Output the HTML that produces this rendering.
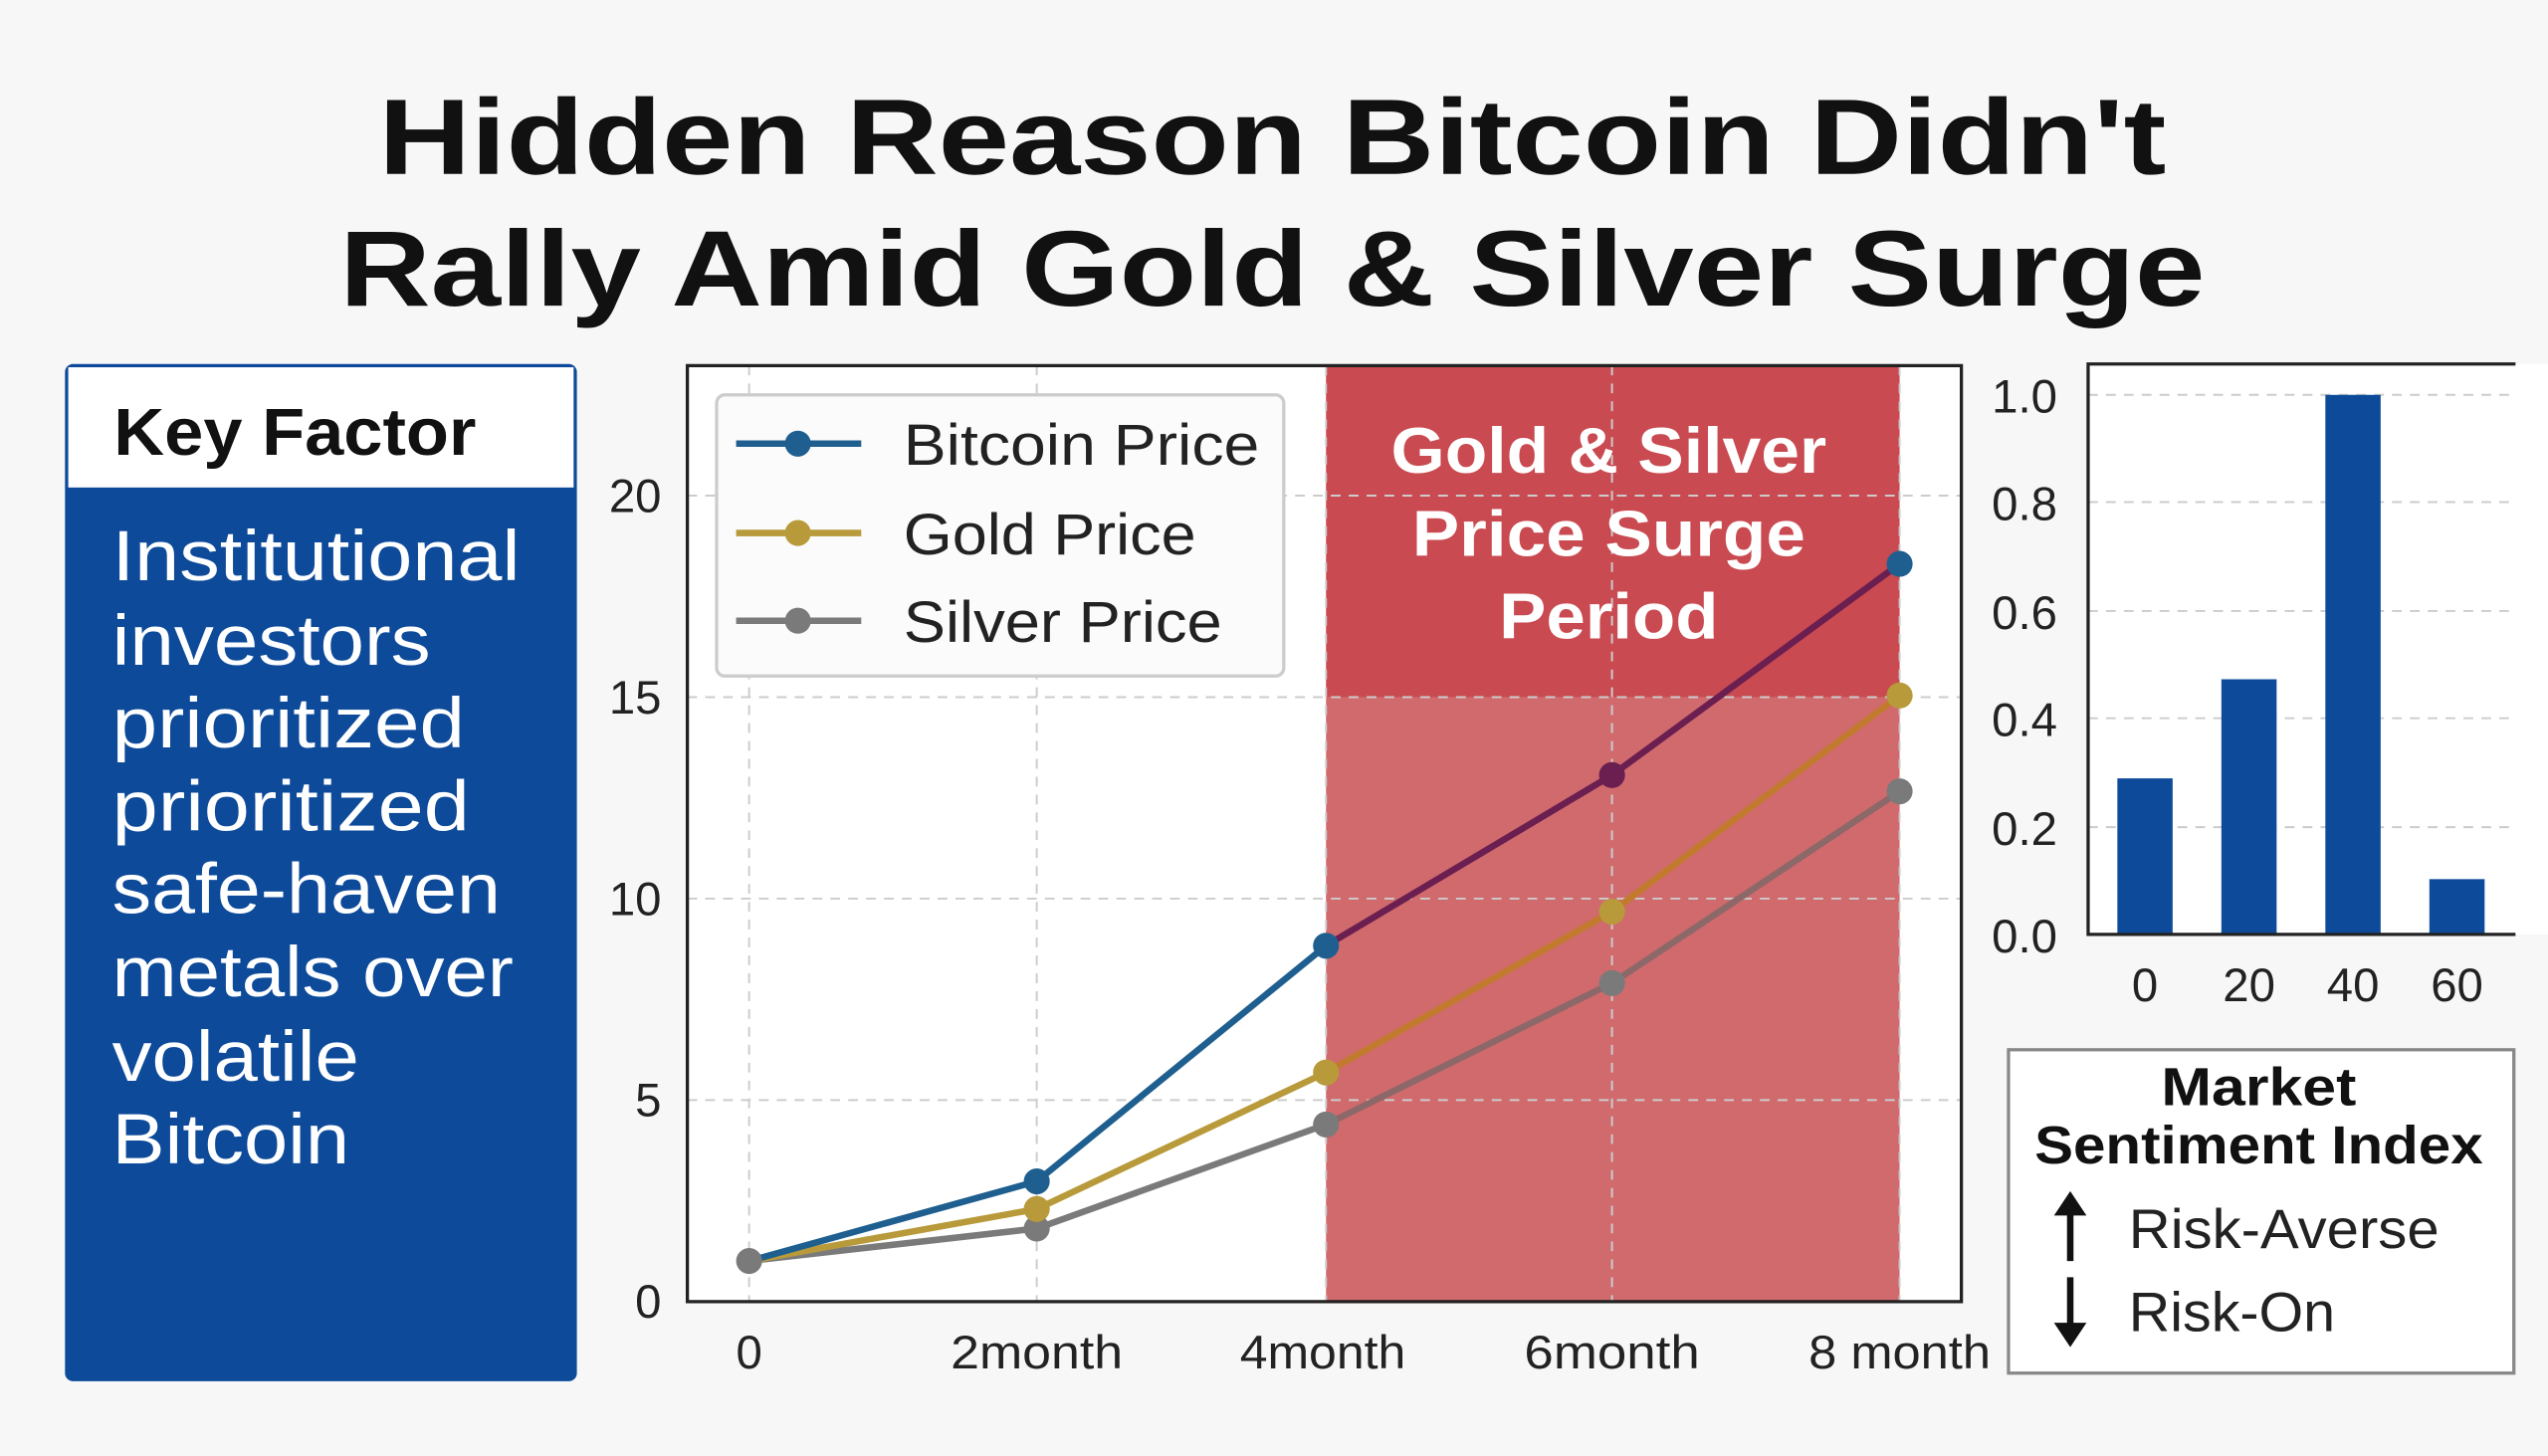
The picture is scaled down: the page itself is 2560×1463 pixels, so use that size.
<!DOCTYPE html>
<html><head><meta charset="utf-8"><style>
html,body{margin:0;padding:0;background:#f7f7f8;}
svg{display:block;font-family:"Liberation Sans","DejaVu Sans",sans-serif;}
</style></head><body>
<svg width="2560" height="1463" viewBox="0 0 1568 896" preserveAspectRatio="none" xmlns="http://www.w3.org/2000/svg">
<rect width="1568" height="896" fill="#f7f7f8"/>
<g font-weight="bold" font-size="66" fill="#111" text-anchor="middle">
<text x="783" y="107" textLength="1100" lengthAdjust="spacingAndGlyphs">Hidden Reason Bitcoin Didn't</text>
<text x="783" y="188" textLength="1148" lengthAdjust="spacingAndGlyphs">Rally Amid Gold &amp; Silver Surge</text>
</g>
<!-- left panel -->
<rect x="40" y="224" width="315" height="626" rx="5" fill="#0d4a9a"/>
<rect x="42" y="226" width="311" height="74" fill="#fff"/>
<text x="70" y="280" font-size="41" font-weight="bold" fill="#111" textLength="223" lengthAdjust="spacingAndGlyphs">Key Factor</text>
<g font-size="44" fill="#fff" lengthAdjust="spacingAndGlyphs">
<text x="69" y="357" textLength="251" lengthAdjust="spacingAndGlyphs">Institutional</text>
<text x="69" y="409" textLength="196" lengthAdjust="spacingAndGlyphs">investors</text>
<text x="69" y="460" textLength="217" lengthAdjust="spacingAndGlyphs">prioritized</text>
<text x="69" y="511" textLength="220" lengthAdjust="spacingAndGlyphs">prioritized</text>
<text x="69" y="562" textLength="239" lengthAdjust="spacingAndGlyphs">safe-haven</text>
<text x="69" y="613" textLength="247" lengthAdjust="spacingAndGlyphs">metals over</text>
<text x="69" y="665" textLength="152" lengthAdjust="spacingAndGlyphs">volatile</text>
<text x="69" y="716" textLength="146" lengthAdjust="spacingAndGlyphs">Bitcoin</text>
</g>
<!-- main chart -->
<rect x="423" y="225" width="784" height="576" fill="#fff"/>
<rect x="816" y="225" width="353" height="204" fill="#c94a50"/>
<rect x="816" y="429" width="353" height="372" fill="#d06a6d"/>
<g stroke="#ccc" stroke-dasharray="6,5" stroke-width="1.2">
<line x1="423" y1="305" x2="1207" y2="305"/><line x1="423" y1="429" x2="1207" y2="429"/>
<line x1="423" y1="553" x2="1207" y2="553"/><line x1="423" y1="677" x2="1207" y2="677"/>
<line x1="461" y1="225" x2="461" y2="801"/><line x1="638" y1="225" x2="638" y2="801"/>
<line x1="816" y1="225" x2="816" y2="801"/><line x1="992" y1="225" x2="992" y2="801"/>
<line x1="1169" y1="225" x2="1169" y2="801"/>
</g>
<rect x="423" y="225" width="784" height="576" fill="none" stroke="#222" stroke-width="2"/>
<g font-size="29" fill="#222" text-anchor="end">
<text x="407" y="811">0</text><text x="407" y="687">5</text><text x="407" y="563">10</text>
<text x="407" y="439">15</text><text x="407" y="315">20</text>
</g>
<g font-size="29" fill="#222" text-anchor="middle">
<text x="461" y="842">0</text><text x="638" y="842" textLength="106" lengthAdjust="spacingAndGlyphs">2month</text><text x="814" y="842" textLength="102" lengthAdjust="spacingAndGlyphs">4month</text>
<text x="992" y="842" textLength="108" lengthAdjust="spacingAndGlyphs">6month</text><text x="1169" y="842" textLength="112" lengthAdjust="spacingAndGlyphs">8 month</text>
</g>
<g fill="none" stroke-width="4">
<polyline points="461,776 638,756 816,692" stroke="#7a7a7a"/>
<polyline points="816,692 992,605 1169,487" stroke="#8c6868"/>
<polyline points="461,776 638,744 816,660" stroke="#b89a3a"/>
<polyline points="816,660 992,561 1169,428" stroke="#c27a2e"/>
<polyline points="461,776 638,727 816,582" stroke="#1f5f8f"/>
<polyline points="816,582 992,477 1169,347" stroke="#6a1f50"/>
</g>
<g fill="#7a7a7a"><circle cx="461" cy="776" r="8"/><circle cx="638" cy="756" r="8"/><circle cx="816" cy="692" r="8"/><circle cx="992" cy="605" r="8"/><circle cx="1169" cy="487" r="8"/></g>
<g fill="#b89a3a"><circle cx="638" cy="744" r="8"/><circle cx="816" cy="660" r="8"/><circle cx="992" cy="561" r="8"/><circle cx="1169" cy="428" r="8"/></g>
<g fill="#1f5f8f"><circle cx="638" cy="727" r="8"/><circle cx="816" cy="582" r="8"/><circle cx="1169" cy="347" r="8"/></g>
<circle cx="992" cy="477" r="8" fill="#6a1f50"/>
<g fill="#fff" font-size="40" font-weight="bold" text-anchor="middle">
<text x="990" y="291" textLength="268" lengthAdjust="spacingAndGlyphs">Gold &amp; Silver</text><text x="990" y="342" textLength="242" lengthAdjust="spacingAndGlyphs">Price Surge</text><text x="990" y="393" textLength="135" lengthAdjust="spacingAndGlyphs">Period</text>
</g>
<!-- legend -->
<rect x="441" y="243" width="349" height="173" rx="5" fill="#fbfbfb" stroke="#ccc" stroke-width="2"/>
<g stroke-width="4"><line x1="453" y1="273" x2="530" y2="273" stroke="#1f5f8f"/><line x1="453" y1="328" x2="530" y2="328" stroke="#b89a3a"/><line x1="453" y1="382" x2="530" y2="382" stroke="#7a7a7a"/></g>
<circle cx="491" cy="273" r="8" fill="#1f5f8f"/><circle cx="491" cy="328" r="8" fill="#b89a3a"/><circle cx="491" cy="382" r="8" fill="#7a7a7a"/>
<g font-size="36" fill="#222"><text x="556" y="286" textLength="219" lengthAdjust="spacingAndGlyphs">Bitcoin Price</text><text x="556" y="341" textLength="180" lengthAdjust="spacingAndGlyphs">Gold Price</text><text x="556" y="395" textLength="196" lengthAdjust="spacingAndGlyphs">Silver Price</text></g>
<!-- bar chart -->
<rect x="1285" y="224" width="283" height="351" fill="#fff"/>
<g stroke="#ccc" stroke-dasharray="6,5" stroke-width="1.2">
<line x1="1285" y1="243" x2="1548" y2="243"/><line x1="1285" y1="309" x2="1548" y2="309"/>
<line x1="1285" y1="376" x2="1548" y2="376"/><line x1="1285" y1="442" x2="1548" y2="442"/>
<line x1="1285" y1="509" x2="1548" y2="509"/>
</g>
<g fill="#0d4a9a">
<rect x="1303" y="479" width="34" height="96"/><rect x="1367" y="418" width="34" height="157"/>
<rect x="1431" y="243" width="34" height="332"/><rect x="1495" y="541" width="34" height="34"/>
</g>
<polyline points="1548,224 1285,224 1285,575 1548,575" fill="none" stroke="#222" stroke-width="2"/>
<g font-size="29" fill="#222" text-anchor="end">
<text x="1266" y="586">0.0</text><text x="1266" y="520">0.2</text><text x="1266" y="453">0.4</text>
<text x="1266" y="387">0.6</text><text x="1266" y="320">0.8</text><text x="1266" y="254">1.0</text>
</g>
<g font-size="29" fill="#222" text-anchor="middle">
<text x="1320" y="616">0</text><text x="1384" y="616">20</text><text x="1448" y="616">40</text><text x="1512" y="616">60</text>
</g>
<!-- sentiment box -->
<rect x="1236" y="646" width="311" height="199" fill="#fff" stroke="#888" stroke-width="2"/>
<g font-size="33" font-weight="bold" fill="#111" text-anchor="middle"><text x="1390" y="680" textLength="120" lengthAdjust="spacingAndGlyphs">Market</text><text x="1390" y="716" textLength="276" lengthAdjust="spacingAndGlyphs">Sentiment Index</text></g>
<g stroke="#111" stroke-width="4"><line x1="1274" y1="776" x2="1274" y2="744"/><line x1="1274" y1="786" x2="1274" y2="818"/></g>
<polygon points="1264,748 1284,748 1274,733" fill="#111"/><polygon points="1264,814 1284,814 1274,829" fill="#111"/>
<g font-size="34" fill="#222"><text x="1310" y="768" textLength="191" lengthAdjust="spacingAndGlyphs">Risk-Averse</text><text x="1310" y="819" textLength="127" lengthAdjust="spacingAndGlyphs">Risk-On</text></g>
</svg>
</body></html>
